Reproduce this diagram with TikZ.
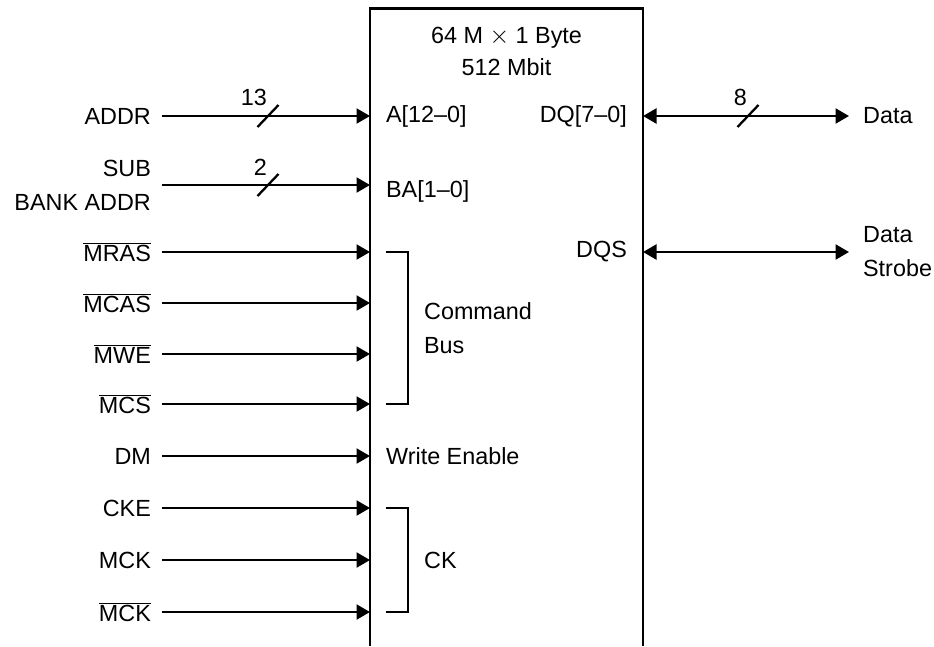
\documentclass[tikz,border=0pt]{standalone}
\usepackage{fontspec}
\setmainfont{Liberation Sans}
\usetikzlibrary{arrows.meta}
\newcommand{\nbar}[1]{$\overline{\mbox{#1}}$}

\begin{document}
\begin{tikzpicture}[line width=1.3pt,
  every node/.style={font=\fontsize{13.3}{19.3}\selectfont, inner sep=0pt},
  sig/.style={-{Triangle[length=0.27cm,width=0.30cm]}},
  bidir/.style={{Triangle[length=0.27cm,width=0.30cm]}-{Triangle[length=0.27cm,width=0.30cm]}},
  inlbl/.style={anchor=west, inner xsep=0.3cm, align=left},
  outlbl/.style={anchor=east, inner xsep=0.2cm, align=right}]
\useasboundingbox (0,0) rectangle (18.68,-12.92);
% chip, open at the bottom
\draw (7.40,-12.92) |- (12.86,-0.17) -- (12.86,-12.92);
\coordinate (pinl) at (7.40,0);
\coordinate (pinr) at (12.86,0);
\node[align=center, font=\fontsize{13.3}{18.2}\selectfont] (title) at (10.13,-1.02) {64 M $\times$ 1 Byte\\512 Mbit};
% inputs
\node[outlbl] (addr) at (3.24,-2.32) {ADDR};
\node[outlbl] (subbank) at (3.24,-3.70) {SUB\\BANK ADDR};
\node[outlbl] (mras) at (3.24,-5.04) {\nbar{MRAS}};
\node[outlbl] (mcas) at (3.24,-6.06) {\nbar{MCAS}};
\node[outlbl] (mwe) at (3.24,-7.08) {\nbar{MWE}};
\node[outlbl] (mcs) at (3.24,-8.08) {\nbar{MCS}};
\node[outlbl] (dm) at (3.24,-9.12) {DM};
\node[outlbl] (cke) at (3.24,-10.16) {CKE};
\node[outlbl] (mck) at (3.24,-11.20) {MCK};
\node[outlbl] (mckn) at (3.24,-12.24) {\nbar{MCK}};
\node[inlbl] (a) at (7.40,-2.32) {A[12–0]};
\node[inlbl] (ba) at (7.40,-3.82) {BA[1–0]};
\node[inlbl] (we) at (7.40,-9.12) {Write Enable};
\draw[sig] (addr) -- (a);
\draw[sig] (subbank.east) -- (subbank.east -| pinl);
\draw[sig] (mras) -- (mras -| pinl);
\draw[sig] (mcas) -- (mcas -| pinl);
\draw[sig] (mwe) -- (mwe -| pinl);
\draw[sig] (mcs) -- (mcs -| pinl);
\draw[sig] (dm) -- (we);
\draw[sig] (cke) -- (cke -| pinl);
\draw[sig] (mck) -- (mck -| pinl);
\draw[sig] (mckn) -- (mckn -| pinl);
% bus widths
\draw (5.15,-2.54) -- (5.57,-2.10);
\node[anchor=south east] (waddr) at (5.36,-2.14) {13};
\draw (5.15,-3.92) -- (5.57,-3.48);
\node[anchor=south east] (wsub) at (5.36,-3.54) {2};
% brackets
\draw (7.72,-5.04) -| (8.16,-8.08) -- (7.72,-8.08);
\node[inlbl] (cmdbus) at (8.16,-6.56) {Command\\Bus};
\draw (7.72,-10.16) -| (8.16,-12.24) -- (7.72,-12.24);
\node[inlbl] (ck) at (8.16,-11.20) {CK};
% outputs
\node[inlbl, anchor=east] (dq) at (12.86,-2.32) {DQ[7–0]};
\node[inlbl, anchor=east] (dqs) at (12.86,-5.04) {DQS};
\node[anchor=west, inner xsep=0.26cm] (data) at (16.98,-2.32) {Data};
\node[anchor=west, inner xsep=0.26cm, align=left] (strobe) at (16.98,-5.04) {Data\\Strobe};
\draw[bidir] (dq -| pinr) -- (data);
\draw[bidir] (dqs -| pinr) -- (strobe);
\draw (14.75,-2.54) -- (15.17,-2.10);
\node[anchor=south east] (wdq) at (14.96,-2.14) {8};
\end{tikzpicture}
\end{document}
